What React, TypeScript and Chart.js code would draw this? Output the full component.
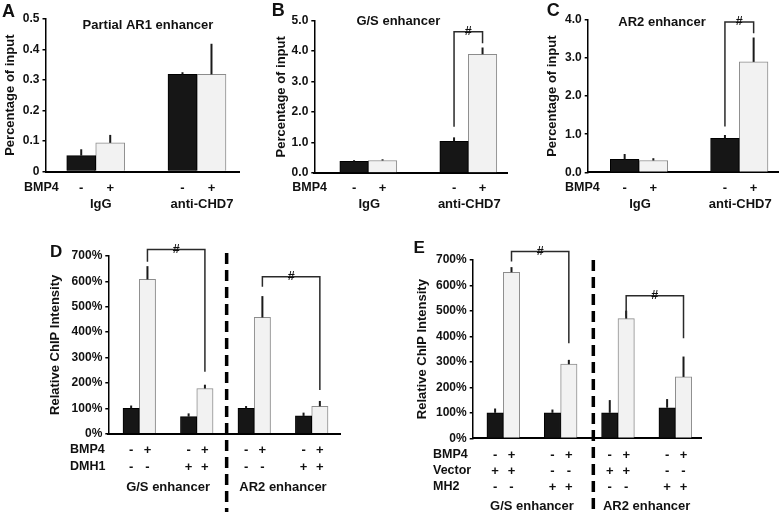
import React, { useEffect, useRef } from 'react';
import { Chart, registerables } from 'chart.js';

Chart.register(...registerables);

const FAMILY = '"Liberation Sans", Arial, Helvetica, sans-serif';

// ---------------- DATA ----------------
// Panels A-C (ChIP, percentage of input)
const TOP_GROUPS = ['IgG', 'anti-CHD7'];
const TOP_BMP4_SIGNS = ['-', '+', '-', '+'];

const A_CTRL = [0.052, 0.318];
const A_CTRL_ERR = [0.021, 0.007];
const A_BMP4 = [0.094, 0.318];
const A_BMP4_ERR = [0.026, 0.1];
const A_TICKS = ['0', '0.1', '0.2', '0.3', '0.4', '0.5'];

const B_CTRL = [0.38, 1.04];
const B_CTRL_ERR = [0.04, 0.13];
const B_BMP4 = [0.41, 3.9];
const B_BMP4_ERR = [0.04, 0.22];
const B_TICKS = ['0.0', '1.0', '2.0', '3.0', '4.0', '5.0'];

const C_CTRL = [0.34, 0.89];
const C_CTRL_ERR = [0.14, 0.09];
const C_BMP4 = [0.31, 2.9];
const C_BMP4_ERR = [0.06, 0.64];
const C_TICKS = ['0.0', '1.0', '2.0', '3.0', '4.0'];

// Panels D-E (relative ChIP intensity, %)
const SITES = ['G/S enhancer', 'AR2 enhancer'];
const PCT_TICKS = ['0%', '100%', '200%', '300%', '400%', '500%', '600%', '700%'];

const D_BMP4_SIGNS = ['-', '+', '-', '+', '-', '+', '-', '+'];
const D_DMH1_SIGNS = ['-', '-', '+', '+', '-', '-', '+', '+'];
const D_CTRL = [100, 67, 100, 70];
const D_CTRL_ERR = [11, 13, 9, 13];
const D_BMP4 = [608, 178, 458, 108];
const D_BMP4_ERR = [52, 15, 84, 21];

const E_BMP4_SIGNS = ['-', '+', '-', '+', '-', '+', '-', '+'];
const E_VECTOR_SIGNS = ['+', '+', '-', '-', '+', '+', '-', '-'];
const E_MH2_SIGNS = ['-', '-', '+', '+', '-', '-', '+', '+'];
const E_CTRL = [100, 100, 100, 120];
const E_CTRL_ERR = [17, 13, 50, 34];
const E_BMP4 = [652, 291, 470, 241];
const E_BMP4_ERR = [20, 17, 31, 80];

// ---------------- PANEL SPECS ----------------
type Box = { left: number; top: number; width: number; height: number };
type Area = { left: number; top: number; right: number; bottom: number };
type Bracket = { from: [number, number]; to: [number, number]; top: number; leftBottom: number; rightBottom: number };
type Spec = {
  id: string;
  canvas: Box;
  area: Area;
  letter: { text: string; x: number; y: number; size: number };
  title?: { text: string; x: number; y: number };
  yTitle: string;
  yTitleX: number;
  yMax: number;
  yStep: number;
  ticks: string[];
  xMin: number;
  xMax: number;
  barWidth: number;
  ctrl: number[];
  ctrlErr: number[];
  bmp4: number[];
  bmp4Err: number[];
  rowLabelX: number;
  rows: { label: string; signs: string[]; y: number }[];
  groupLabels: { texts: string[]; span: number; y: number; dx: number };
  brackets: Bracket[];
  divider?: { at: number; top: number };
};

const SPECS: Spec[] = [
  {
    id: 'A',
    canvas: { left: 0, top: 0, width: 252, height: 215 },
    area: { left: 45.5, top: 18.7, right: 239, bottom: 171.6 },
    letter: { text: 'A', x: 2, y: 16.5, size: 18 },
    title: { text: 'Partial AR1 enhancer', x: 148, y: 25 },
    yTitle: 'Percentage of input',
    yTitleX: 10,
    yMax: 0.5,
    yStep: 0.1,
    ticks: A_TICKS,
    xMin: 0.504,
    xMax: 2.415,
    barWidth: 29,
    ctrl: A_CTRL,
    ctrlErr: A_CTRL_ERR,
    bmp4: A_BMP4,
    bmp4Err: A_BMP4_ERR,
    rowLabelX: 24,
    rows: [{ label: 'BMP4', signs: TOP_BMP4_SIGNS, y: 188 }],
    groupLabels: { texts: TOP_GROUPS, span: 1, y: 204.5, dx: 5 },
    brackets: [],
  },
  {
    id: 'B',
    canvas: { left: 268, top: 0, width: 244, height: 215 },
    area: { left: 314.3, top: 20.7, right: 507, bottom: 173 },
    letter: { text: 'B', x: 271.7, y: 15.5, size: 18 },
    title: { text: 'G/S enhancer', x: 398.3, y: 21.7 },
    yTitle: 'Percentage of input',
    yTitleX: 281.5,
    yMax: 5,
    yStep: 1,
    ticks: B_TICKS,
    xMin: 0.46,
    xMax: 2.387,
    barWidth: 28.5,
    ctrl: B_CTRL,
    ctrlErr: B_CTRL_ERR,
    bmp4: B_BMP4,
    bmp4Err: B_BMP4_ERR,
    rowLabelX: 292.3,
    rows: [{ label: 'BMP4', signs: TOP_BMP4_SIGNS, y: 188 }],
    groupLabels: { texts: TOP_GROUPS, span: 1, y: 204.5, dx: 1 },
    brackets: [{ from: [1, 0], to: [1, 1], top: 4.64, leftBottom: 1.52, rightBottom: 4.26 }],
  },
  {
    id: 'C',
    canvas: { left: 542, top: 0, width: 237, height: 215 },
    area: { left: 587.7, top: 20, right: 778, bottom: 172.3 },
    letter: { text: 'C', x: 546.7, y: 15.5, size: 18 },
    title: { text: 'AR2 enhancer', x: 662, y: 22.7 },
    yTitle: 'Percentage of input',
    yTitleX: 552,
    yMax: 4,
    yStep: 1,
    ticks: C_TICKS,
    xMin: 0.4885,
    xMax: 2.386,
    barWidth: 28.7,
    ctrl: C_CTRL,
    ctrlErr: C_CTRL_ERR,
    bmp4: C_BMP4,
    bmp4Err: C_BMP4_ERR,
    rowLabelX: 565,
    rows: [{ label: 'BMP4', signs: TOP_BMP4_SIGNS, y: 188 }],
    groupLabels: { texts: TOP_GROUPS, span: 1, y: 204.5, dx: 1 },
    brackets: [{ from: [1, 0], to: [1, 1], top: 3.95, leftBottom: 1.2, rightBottom: 3.65 }],
  },
  {
    id: 'D',
    canvas: { left: 45, top: 235, width: 340, height: 277 },
    area: { left: 108.3, top: 256, right: 340, bottom: 433.7 },
    letter: { text: 'D', x: 50, y: 256.7, size: 17 },
    yTitle: 'Relative ChIP Intensity',
    yTitleX: 55,
    yMax: 700,
    yStep: 100,
    ticks: PCT_TICKS,
    xMin: 0.4606,
    xMax: 4.4924,
    barWidth: 16.3,
    ctrl: D_CTRL,
    ctrlErr: D_CTRL_ERR,
    bmp4: D_BMP4,
    bmp4Err: D_BMP4_ERR,
    rowLabelX: 70,
    rows: [
      { label: 'BMP4', signs: D_BMP4_SIGNS, y: 450 },
      { label: 'DMH1', signs: D_DMH1_SIGNS, y: 467 },
    ],
    groupLabels: { texts: SITES, span: 2, y: 487.5, dx: 0 },
    brackets: [
      { from: [0, 1], to: [1, 1], top: 726, leftBottom: 677, rightBottom: 244 },
      { from: [2, 1], to: [3, 1], top: 618, leftBottom: 579, rightBottom: 172 },
    ],
    divider: { at: 2.52, top: 253 },
  },
  {
    id: 'E',
    canvas: { left: 413, top: 235, width: 366, height: 277 },
    area: { left: 472.7, top: 260, right: 701, bottom: 438.3 },
    letter: { text: 'E', x: 413.5, y: 253.3, size: 17 },
    yTitle: 'Relative ChIP Intensity',
    yTitleX: 422.5,
    yMax: 700,
    yStep: 100,
    ticks: PCT_TICKS,
    xMin: 0.4663,
    xMax: 4.448,
    barWidth: 16.4,
    ctrl: E_CTRL,
    ctrlErr: E_CTRL_ERR,
    bmp4: E_BMP4,
    bmp4Err: E_BMP4_ERR,
    rowLabelX: 433,
    rows: [
      { label: 'BMP4', signs: E_BMP4_SIGNS, y: 455 },
      { label: 'Vector', signs: E_VECTOR_SIGNS, y: 471 },
      { label: 'MH2', signs: E_MH2_SIGNS, y: 487 },
    ],
    groupLabels: { texts: SITES, span: 2, y: 506, dx: 0 },
    brackets: [
      { from: [0, 1], to: [1, 1], top: 733, leftBottom: 694, rightBottom: 373 },
      { from: [2, 1], to: [3, 1], top: 560, leftBottom: 478, rightBottom: 393 },
    ],
    divider: { at: 2.57, top: 260 },
  },
];

function makeOverlay(p: Spec) {
  const ox = p.canvas.left;
  const oy = p.canvas.top;
  return {
    id: 'overlay' + p.id,
    afterDatasetsDraw(chart: any) {
      const ctx = chart.ctx;
      const y = chart.scales.y;
      const sets = [
        { vals: p.ctrl, errs: p.ctrlErr },
        { vals: p.bmp4, errs: p.bmp4Err },
      ];
      ctx.save();
      ctx.strokeStyle = '#1a1a1a';
      ctx.lineWidth = 2;
      sets.forEach((s, d) => {
        const meta = chart.getDatasetMeta(d);
        s.vals.forEach((v, g) => {
          const el = meta.data[g];
          const top = y.getPixelForValue(v + s.errs[g]);
          ctx.beginPath();
          ctx.moveTo(el.x, el.y);
          ctx.lineTo(el.x, top);
          ctx.stroke();
        });
      });
      ctx.restore();
    },
    afterDraw(chart: any) {
      const ctx = chart.ctx;
      const xs = chart.scales.x;
      const ys = chart.scales.y;
      const barX = (g: number, d: number) => chart.getDatasetMeta(d).data[g].x;
      ctx.save();
      ctx.fillStyle = '#111';
      // panel letter
      ctx.font = `bold ${p.letter.size}px ${FAMILY}`;
      ctx.textAlign = 'left';
      ctx.textBaseline = 'alphabetic';
      ctx.fillText(p.letter.text, p.letter.x - ox, p.letter.y - oy);
      // title
      if (p.title) {
        ctx.font = `bold 13px ${FAMILY}`;
        ctx.textAlign = 'center';
        ctx.textBaseline = 'middle';
        ctx.fillText(p.title.text, p.title.x - ox, p.title.y - oy);
      }
      // rows of +/- signs
      ctx.textBaseline = 'middle';
      p.rows.forEach((r) => {
        ctx.font = `bold 12.5px ${FAMILY}`;
        ctx.textAlign = 'left';
        ctx.fillText(r.label, p.rowLabelX - ox, r.y - oy);
        ctx.font = `bold 13px ${FAMILY}`;
        ctx.textAlign = 'center';
        r.signs.forEach((s, k) => {
          const g = Math.floor(k / 2);
          const d = k % 2;
          ctx.fillText(s, barX(g, d), r.y - oy);
        });
      });
      // group labels
      ctx.font = `bold 13px ${FAMILY}`;
      ctx.textAlign = 'center';
      const gl = p.groupLabels;
      gl.texts.forEach((t, i) => {
        let sum = 0;
        for (let j = 0; j < gl.span; j++) sum += xs.getPixelForValue(i * gl.span + j + 1);
        ctx.fillText(t, sum / gl.span + gl.dx, gl.y - oy);
      });
      // brackets
      p.brackets.forEach((b) => {
        const x1 = barX(b.from[0], b.from[1]);
        const x2 = barX(b.to[0], b.to[1]);
        const yt = ys.getPixelForValue(b.top);
        ctx.strokeStyle = '#2a2a2a';
        ctx.lineWidth = 1.5;
        ctx.beginPath();
        ctx.moveTo(x1, ys.getPixelForValue(b.leftBottom));
        ctx.lineTo(x1, yt);
        ctx.lineTo(x2, yt);
        ctx.lineTo(x2, ys.getPixelForValue(b.rightBottom));
        ctx.stroke();
        const mx = (x1 + x2) / 2;
        ctx.fillStyle = '#111';
        ctx.font = `bold 12.5px ${FAMILY}`;
        ctx.textAlign = 'center';
        ctx.textBaseline = 'middle';
        ctx.fillText('#', mx, yt);
      });
      // dashed divider
      if (p.divider) {
        const dx = xs.getPixelForValue(p.divider.at);
        ctx.strokeStyle = '#000';
        ctx.lineWidth = 3.5;
        ctx.setLineDash([11, 6]);
        ctx.beginPath();
        ctx.moveTo(dx, p.divider.top - oy);
        ctx.lineTo(dx, p.canvas.height);
        ctx.stroke();
        ctx.setLineDash([]);
      }
      ctx.restore();
    },
  };
}

function Panel({ p }: { p: Spec }) {
  const ref = useRef<HTMLCanvasElement | null>(null);
  useEffect(() => {
    const c = ref.current;
    if (!c) return;
    const { canvas: cb, area } = p;
    const titleLine = 13 * 1.2;
    const titlePad = Math.max(0, p.yTitleX - cb.left - titleLine / 2);
    const chart = new Chart(c, {
      type: 'bar',
      data: {
        datasets: [
          {
            label: 'BMP4 -',
            data: p.ctrl.map((v, i) => ({ x: i + 1, y: v })),
            backgroundColor: '#161616',
            borderColor: '#000',
            borderWidth: 1,
            barThickness: p.barWidth,
          },
          {
            label: 'BMP4 +',
            data: p.bmp4.map((v, i) => ({ x: i + 1, y: v })),
            backgroundColor: '#f2f2f2',
            borderColor: '#8c8c8c',
            borderWidth: 1,
            barThickness: p.barWidth,
          },
        ],
      } as any,
      options: {
        responsive: false,
        animation: false,
        events: [],
        layout: {
          padding: {
            left: 0,
            top: area.top - cb.top,
            right: cb.left + cb.width - area.right,
            bottom: 0,
          },
        },
        plugins: { legend: { display: false }, tooltip: { enabled: false }, title: { display: false } },
        scales: {
          x: {
            type: 'linear',
            min: p.xMin,
            max: p.xMax,
            offset: false,
            ticks: { display: false },
            grid: { display: false },
            border: { display: true, color: '#000', width: 2 },
            afterFit: (s: any) => {
              s.height = cb.top + cb.height - area.bottom;
            },
          },
          y: {
            type: 'linear',
            min: 0,
            max: p.yMax,
            ticks: {
              stepSize: p.yStep,
              autoSkip: false,
              padding: 3,
              color: '#111',
              font: { family: FAMILY, size: 12, weight: 'bold' },
              callback: (_v: any, i: number) => p.ticks[i] ?? '',
            },
            grid: {
              display: true,
              drawOnChartArea: false,
              drawTicks: true,
              tickLength: 3,
              color: '#000',
              lineWidth: 1.5,
            },
            border: { display: true, color: '#000', width: 1.5 },
            title: {
              display: true,
              text: p.yTitle,
              color: '#111',
              font: { family: FAMILY, size: 13, weight: 'bold' },
              padding: { top: titlePad, bottom: 0 },
            },
            afterFit: (s: any) => {
              s.width = area.left - cb.left;
            },
          },
        },
      } as any,
      plugins: [makeOverlay(p)],
    });
    return () => chart.destroy();
  }, [p]);
  return (
    <canvas
      ref={ref}
      width={p.canvas.width}
      height={p.canvas.height}
      style={{
        position: 'absolute',
        left: p.canvas.left,
        top: p.canvas.top,
        width: p.canvas.width,
        height: p.canvas.height,
      }}
    />
  );
}

export default function App() {
  return (
    <div style={{ position: 'absolute', left: 0, top: 0, width: 779, height: 512, background: '#fff', overflow: 'hidden' }}>
      {SPECS.map((p) => (
        <Panel key={p.id} p={p} />
      ))}
    </div>
  );
}
